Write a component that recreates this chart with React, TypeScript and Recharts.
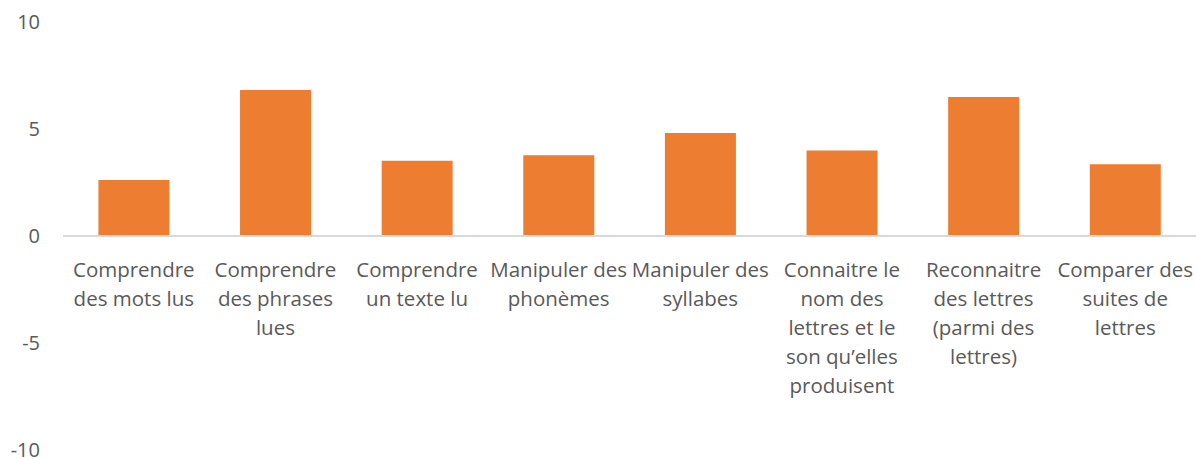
import { BarChart, Bar, XAxis, YAxis, ReferenceLine } from "recharts";

const categories = [
  "Comprendre\ndes mots lus",
  "Comprendre\ndes phrases\nlues",
  "Comprendre\nun texte lu",
  "Manipuler des\nphonèmes",
  "Manipuler des\nsyllabes",
  "Connaitre le\nnom des\nlettres et le\nson qu’elles\nproduisent",
  "Reconnaitre\ndes lettres\n(parmi des\nlettres)",
  "Comparer des\nsuites de\nlettres",
];
const scores = [2.62, 6.82, 3.52, 3.77, 4.81, 4.0, 6.5, 3.35];
const yTicks = [-10, -5, 0, 5, 10];

const data = categories.map((name, i) => ({ name, value: scores[i] }));

const W = 1196;
const H = 459;
const TOP = 22;
const BOTTOM = 8;
const AXIS_H = 1;
const FONT = "'Open Sans', Lato, sans-serif";
const TEXT = "#595959";

function CategoryTick(props: any) {
  const { x, payload } = props;
  const plotH = H - TOP - BOTTOM - AXIS_H;
  const zeroY = TOP + plotH / 2;
  const lines = String(payload.value).split("\n");
  return (
    <text x={x} y={zeroY + 41} textAnchor="middle" fill={TEXT} fontSize={20.5} fontFamily={FONT}>
      {lines.map((l, i) => (
        <tspan key={i} x={x} dy={i === 0 ? 0 : 29}>
          {l}
        </tspan>
      ))}
    </text>
  );
}

export default function App() {
  return (
    <div style={{ position: "absolute", left: 0, top: 0, background: "#fff" }}>
      <BarChart
        width={W}
        height={H}
        data={data}
        margin={{ top: TOP, right: 0, bottom: BOTTOM, left: 0 }}
        barCategoryGap="25%"
      >
        <YAxis
          domain={[-10, 10]}
          ticks={yTicks}
          width={63}
          axisLine={false}
          tickLine={false}
          tickSize={0}
          tickMargin={23}
          tick={{ fill: TEXT, fontSize: 20, fontFamily: FONT }}
          interval={0}
        />
        <XAxis
          dataKey="name"
          height={AXIS_H}
          axisLine={false}
          tickLine={false}
          tickSize={0}
          tickMargin={0}
          interval={0}
          tick={CategoryTick}
        />
        <ReferenceLine y={0} stroke="#D9D9D9" strokeWidth={2} />
        <Bar dataKey="value" fill="#ED7D31" isAnimationActive={false} />
      </BarChart>
    </div>
  );
}
